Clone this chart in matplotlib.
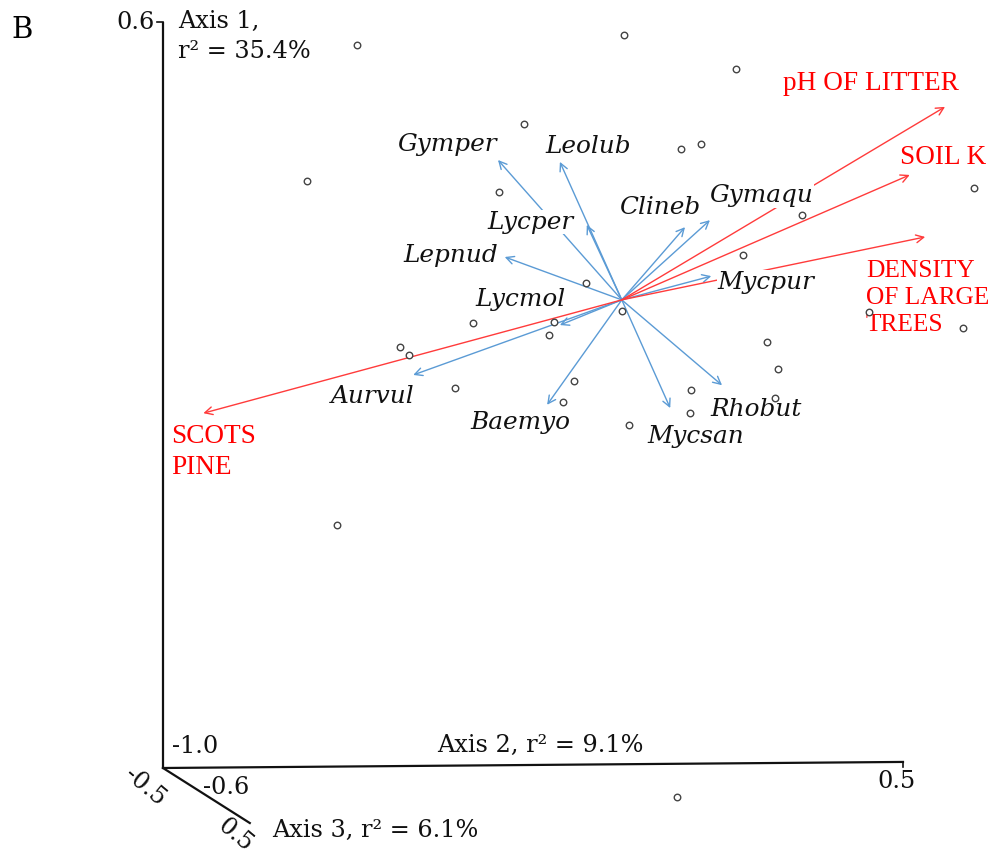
"""Ordination biplot (panel B): sample scores on axes 1/2 with species and
environmental-variable vectors, drawn as a pseudo-3D frame with axis 3."""

import matplotlib
matplotlib.use("Agg")
import matplotlib.pyplot as plt

# sample scores (axis 2, axis 1)
site_ax2 = [-0.312, 0.085, 0.252, -0.063, 0.170, 0.200, -0.386, -0.101, 0.606,
            0.350, 0.262, 0.029, 0.450, 0.589, -0.139, -0.019, -0.026, 0.082,
            -0.248, -0.234, -0.166, 0.011, -0.005, 0.093, 0.185, 0.183, 0.298,
            0.314, 0.310, -0.341, 0.164]
site_ax1 = [0.551, 0.572, 0.499, 0.381, 0.328, 0.338, 0.259, 0.235, 0.244,
            0.186, 0.100, 0.040, -0.022, -0.056, -0.046, -0.043, -0.071, -0.020,
            -0.097, -0.114, -0.185, -0.170, -0.215, -0.264, -0.189, -0.239,
            -0.086, -0.144, -0.206, -0.479, -1.062]

# centroid all vectors are drawn from
origin = (0.082, 0.004)

species = ["Gymper", "Leolub", "Lycper", "Lepnud", "Clineb", "Gymaqu", "Mycpur",
           "Lycmol", "Aurvul", "Baemyo", "Mycsan", "Rhobut"]
species_ax2 = [-0.102, -0.010, 0.030, -0.092, 0.176, 0.213, 0.215,
               -0.010, -0.228, -0.029, 0.154, 0.231]
species_ax1 = [0.304, 0.300, 0.165, 0.096, 0.160, 0.175, 0.055,
               -0.050, -0.157, -0.221, -0.228, -0.179]

env_vars = ["pH OF LITTER", "SOIL K", "DENSITY\nOF LARGE\nTREES", "SCOTS\nPINE"]
env_ax2 = [0.5625, 0.510, 0.533, -0.540]
env_ax1 = [0.418, 0.272, 0.139, -0.239]

# label anchors (centre for species, left/centre for environment) and sizes
species_label_pos = [(-0.178, 0.338), (0.032, 0.334), (-0.054, 0.171),
                     (-0.172, 0.100), (0.139, 0.203), (0.290, 0.227),
                     (0.296, 0.042), (-0.069, 0.004), (-0.288, -0.204),
                     (-0.069, -0.260), (0.192, -0.290), (0.282, -0.232)]
env_label_pos = [(0.322, 0.469), (0.496, 0.310), (0.445, 0.008), (-0.588, -0.322)]
env_label_size = [19.6, 19.6, 18.3, 19.6]

BLUE = "#5b9bd5"
RED = "#ff3b3b"
INK = "#111111"
SERIF = "DejaVu Serif"
FS = 17.3

fig = plt.figure(figsize=(9.94, 8.55), dpi=100)
ax = fig.add_axes([0, 0, 1, 1])
ax.set_xlim(-0.8423, 0.6353)
ax.set_ylim(-1.1866, 0.6472)
ax.axis("off")

# frame: axis 1 vertical, axis 2 horizontal, axis 3 receding
ax.plot([-0.6, -0.6], [0.6, -1.0], color=INK, lw=1.6, solid_capstyle="butt")
ax.plot([-0.609, -0.6], [0.6, 0.6], color=INK, lw=1.2)
ax.plot([-0.6, 0.5], [-1.0, -0.987], color=INK, lw=1.6)
ax.plot([0.5, 0.5], [-0.987, -0.998], color=INK, lw=1.2)
ax.plot([-0.6, -0.471], [-1.0, -1.118], color=INK, lw=1.6)

for (x, y), name in zip(species_label_pos, species):
    ax.text(x, y, name, fontsize=17.8, family=SERIF, style="italic", color=INK,
            ha="center", va="center", zorder=4,
            bbox=dict(facecolor="white", edgecolor="none", pad=0.5))

for x, y in zip(species_ax2, species_ax1):
    ax.annotate("", xy=(x, y), xytext=origin, zorder=2,
                arrowprops=dict(arrowstyle="->,head_length=0.55,head_width=0.28",
                                color=BLUE, lw=1.0, shrinkA=0, shrinkB=0))

for x, y in zip(env_ax2, env_ax1):
    ax.annotate("", xy=(x, y), xytext=origin, zorder=3,
                arrowprops=dict(arrowstyle="->,head_length=0.55,head_width=0.28",
                                color=RED, lw=1.0, shrinkA=0, shrinkB=0))

for (x, y), name, size in zip(env_label_pos, env_vars, env_label_size):
    ax.text(x, y, name, fontsize=size, family="Liberation Serif", color="red",
            ha="left", va="center", linespacing=1.3, zorder=4)

ax.scatter(site_ax2, site_ax1, s=22, facecolors="white", edgecolors="#444444",
           linewidths=1.0, zorder=5)

# frame annotations
ax.text(-0.810, 0.583, "B", fontsize=21, family=SERIF, color="black",
        ha="center", va="center")
ax.text(-0.612, 0.600, "0.6", fontsize=FS, family=SERIF, color=INK,
        ha="right", va="center")
ax.text(-0.578, 0.626, "Axis 1,\nr² = 35.4%", fontsize=FS, family=SERIF,
        color=INK, ha="left", va="top", linespacing=1.4)
ax.text(-0.587, -0.953, "-1.0", fontsize=FS, family=SERIF, color=INK,
        ha="left", va="center")
ax.text(-0.193, -0.951, "Axis 2, r² = 9.1%", fontsize=FS, family=SERIF,
        color=INK, ha="left", va="center")
ax.text(0.491, -1.028, "0.5", fontsize=FS, family=SERIF, color=INK,
        ha="center", va="center")
ax.text(-0.541, -1.041, "-0.6", fontsize=FS, family=SERIF, color=INK,
        ha="left", va="center")
ax.text(-0.627, -1.041, "-0.5", fontsize=FS, family=SERIF, color=INK,
        ha="center", va="center", rotation=-40)
ax.text(-0.493, -1.144, "0.5", fontsize=FS, family=SERIF, color=INK,
        ha="center", va="center", rotation=-40)
ax.text(-0.438, -1.133, "Axis 3, r² = 6.1%", fontsize=FS, family=SERIF,
        color=INK, ha="left", va="center")

fig.savefig("out.png", dpi=100, facecolor="white")
